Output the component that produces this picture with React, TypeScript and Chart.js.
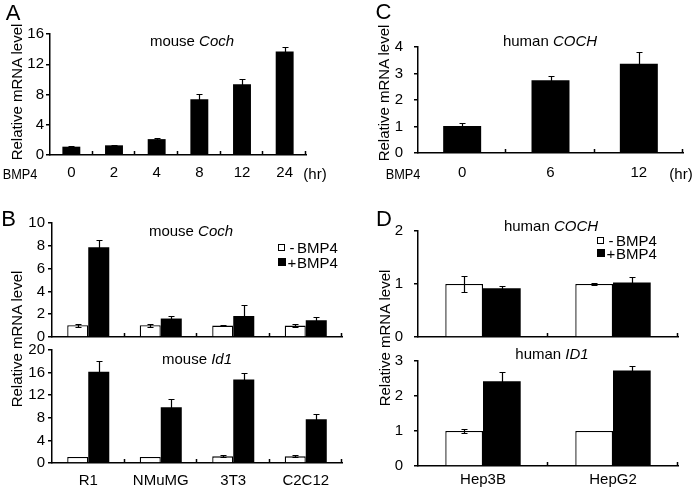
import React, { useEffect, useRef } from "react";
import { Chart, registerables } from "chart.js";

Chart.register(...registerables);

const FONT = "'Liberation Sans', Arial, Helvetica, sans-serif";

// ---- Panel A: mouse Coch, BMP4 time course ----
const aHours = ["0", "2", "4", "8", "12", "24"];
const aValues = [1.1, 1.28, 2.1, 7.38, 9.36, 13.67];
const aErrors = [0.12, 0.08, 0.1, 0.66, 0.74, 0.66];

// ---- Panel C: human COCH, BMP4 time course ----
const cHours = ["0", "6", "12"];
const cValues = [1.02, 2.75, 3.37];
const cErrors = [0.13, 0.14, 0.43];

// ---- Panel B: mouse cell lines ----
const bCells = ["R1", "NMuMG", "3T3", "C2C12"];
const bCochMinus = [1.03, 1.03, 1.0, 1.0];
const bCochMinusErr = [0.15, 0.15, 0.05, 0.15];
const bCochPlus = [7.88, 1.62, 1.84, 1.47];
const bCochPlusErr = [0.59, 0.23, 0.96, 0.29];
const bId1Minus = [1.07, 1.07, 1.18, 1.18];
const bId1MinusErr = [0.08, 0.08, 0.2, 0.2];
const bId1Plus = [16.15, 9.88, 14.8, 7.75];
const bId1PlusErr = [1.95, 1.36, 1.18, 1.01];

// ---- Panel D: human cell lines ----
const dCells = ["Hep3B", "HepG2"];
const dCochMinus = [1.0, 1.0];
const dCochMinusErr = [0.16, 0.01];
const dCochPlus = [0.92, 1.03];
const dCochPlusErr = [0.05, 0.1];
const dId1Minus = [1.0, 1.0];
const dId1MinusErr = [0.07, 0.01];
const dId1Plus = [2.42, 2.73];
const dId1PlusErr = [0.28, 0.14];

type Series = { values: number[]; errors: number[]; fill: string };
type Spec = {
  area: [number, number, number, number];
  labels: string[];
  series: Series[];
  max: number;
  step: number;
  yPad: number;
  showX: boolean;
  xPad: number;
  catPct: number;
};

const errorBarPlugin = {
  id: "errorBarsAndTicks",
  afterDatasetsDraw(chart: any) {
    const ctx = chart.ctx;
    const ys = chart.scales.y;
    ctx.save();
    ctx.strokeStyle = "#000";
    ctx.lineWidth = 1.2;
    chart.data.datasets.forEach((ds: any, i: number) => {
      const meta = chart.getDatasetMeta(i);
      const errs: number[] = ds.errors || [];
      meta.data.forEach((el: any, j: number) => {
        const v = ds.data[j];
        const e = errs[j] || 0;
        const x = Math.round(el.x) + 0.5;
        const yt = Math.round(ys.getPixelForValue(v + e)) + 0.5;
        const yb = Math.round(ys.getPixelForValue(v - e)) + 0.5;
        ctx.beginPath();
        ctx.moveTo(x, yt);
        ctx.lineTo(x, yb);
        ctx.moveTo(x - 3, yt);
        ctx.lineTo(x + 3, yt);
        ctx.moveTo(x - 3, yb);
        ctx.lineTo(x + 3, yb);
        ctx.stroke();
      });
    });
    const { left, right, bottom } = chart.chartArea;
    const n = chart.data.labels.length;
    ctx.lineWidth = 1.5;
    ctx.beginPath();
    for (let k = 1; k <= n; k++) {
      const xx = Math.round(left + ((right - left) * k) / n) - 0.5;
      ctx.moveTo(xx, bottom);
      ctx.lineTo(xx, bottom - 4);
    }
    ctx.stroke();
    ctx.restore();
  },
};

const YW = 50;
const TOPPAD = 12;
const RIGHTPAD = 6;
const XH = 30;

function BarChart({ spec }: { spec: Spec }) {
  const ref = useRef<HTMLCanvasElement>(null);
  const [l, t, r, b] = spec.area;
  const w = r - l + YW + RIGHTPAD;
  const h = b - t + TOPPAD + XH;
  useEffect(() => {
    const chart = new Chart(ref.current as HTMLCanvasElement, {
      type: "bar",
      data: {
        labels: spec.labels,
        datasets: spec.series.map((s) => ({
          data: s.values,
          errors: s.errors,
          backgroundColor: s.fill,
          borderColor: "#000",
          borderWidth: s.fill === "#000" ? 0 : 1.3,
          categoryPercentage: spec.catPct,
          barPercentage: 1,
        })) as any,
      },
      options: {
        responsive: false,
        animation: false,
        devicePixelRatio: 1,
        layout: { padding: { left: 0, top: TOPPAD, right: RIGHTPAD, bottom: 0 } },
        plugins: { legend: { display: false }, tooltip: { enabled: false } },
        scales: {
          x: {
            grid: { display: false, drawTicks: false },
            border: { display: true, color: "#000", width: 1.5 },
            ticks: {
              display: spec.showX,
              color: "#000",
              font: { family: FONT, size: 15 },
              padding: spec.xPad,
              maxRotation: 0,
              autoSkip: false,
            },
            afterFit: (s: any) => {
              s.height = XH;
            },
          },
          y: {
            min: 0,
            max: spec.max,
            ticks: {
              stepSize: spec.step,
              color: "#000",
              font: { family: FONT, size: 15 },
              padding: spec.yPad,
            },
            grid: { drawOnChartArea: false, tickLength: 4, color: "#000", lineWidth: 1.5 },
            border: { display: true, color: "#000", width: 1.5 },
            afterFit: (s: any) => {
              s.width = YW;
            },
          },
        },
      },
      plugins: [errorBarPlugin],
    });
    return () => chart.destroy();
  }, []);
  return (
    <canvas
      ref={ref}
      width={w}
      height={h}
      style={{ position: "absolute", left: l - YW, top: t - TOPPAD, width: w, height: h }}
    />
  );
}

function Txt({
  x,
  y,
  children,
  size = 15,
  rot = false,
  sx = 1,
}: {
  x: number;
  y: number;
  children: any;
  size?: number;
  rot?: boolean;
  sx?: number;
}) {
  return (
    <div
      style={{
        position: "absolute",
        left: x,
        top: y,
        fontSize: size,
        lineHeight: 1,
        whiteSpace: "nowrap",
        color: "#000",
        transform: `translate(-50%,-50%)${rot ? " rotate(-90deg)" : ""}${sx !== 1 ? ` scaleX(${sx})` : ""}`,
      }}
    >
      {children}
    </div>
  );
}

function LegendItem({ x, y, filled, sign }: { x: number; y: number; filled: boolean; sign: string }) {
  const sq = filled ? 8 : 7;
  return (
    <>
      <div
        style={{
          position: "absolute",
          left: x,
          top: y - sq / 2,
          width: sq,
          height: sq,
          boxSizing: "border-box",
          border: "1px solid #000",
          background: filled ? "#000" : "#fff",
        }}
      />
      <div
        style={{
          position: "absolute",
          left: x + 9,
          top: y - 7.5,
          fontSize: 15,
          lineHeight: "15px",
          whiteSpace: "nowrap",
        }}
      >
        <span style={{ display: "inline-block", width: 10, textAlign: "center" }}>{sign}</span>
        BMP4
      </div>
    </>
  );
}

const BLACK = "#000";
const WHITE = "#fff";

export default function App() {
  const specA: Spec = {
    area: [50, 34, 306, 155],
    labels: aHours,
    series: [{ values: aValues, errors: aErrors, fill: BLACK }],
    max: 16,
    step: 4,
    yPad: 2,
    showX: true,
    xPad: 9,
    catPct: 0.42,
  };
  const specC: Spec = {
    area: [418, 39, 683, 153],
    labels: cHours,
    series: [{ values: cValues, errors: cErrors, fill: BLACK }],
    max: 4,
    step: 1,
    yPad: 11,
    showX: true,
    xPad: 11,
    catPct: 0.43,
  };
  const specB1: Spec = {
    area: [52, 223, 342, 337],
    labels: bCells,
    series: [
      { values: bCochMinus, errors: bCochMinusErr, fill: WHITE },
      { values: bCochPlus, errors: bCochPlusErr, fill: BLACK },
    ],
    max: 10,
    step: 2,
    yPad: 3,
    showX: false,
    xPad: 9,
    catPct: 0.58,
  };
  const specB2: Spec = {
    area: [52, 350, 342, 463],
    labels: bCells,
    series: [
      { values: bId1Minus, errors: bId1MinusErr, fill: WHITE },
      { values: bId1Plus, errors: bId1PlusErr, fill: BLACK },
    ],
    max: 20,
    step: 4,
    yPad: 3,
    showX: true,
    xPad: 9,
    catPct: 0.58,
  };
  const specD1: Spec = {
    area: [418, 223, 678, 337],
    labels: dCells,
    series: [
      { values: dCochMinus, errors: dCochMinusErr, fill: WHITE },
      { values: dCochPlus, errors: dCochPlusErr, fill: BLACK },
    ],
    max: 2,
    step: 1,
    yPad: 11,
    showX: false,
    xPad: 5,
    catPct: 0.58,
  };
  const specD2: Spec = {
    area: [418, 353, 678, 466],
    labels: dCells,
    series: [
      { values: dId1Minus, errors: dId1MinusErr, fill: WHITE },
      { values: dId1Plus, errors: dId1PlusErr, fill: BLACK },
    ],
    max: 3,
    step: 1,
    yPad: 11,
    showX: true,
    xPad: 5,
    catPct: 0.58,
  };

  return (
    <div
      style={{
        position: "absolute",
        left: 0,
        top: 0,
        width: 693,
        height: 491,
        background: "#fff",
        fontFamily: FONT,
        overflow: "hidden",
      }}
    >
      <BarChart spec={specA} />
      <BarChart spec={specC} />
      <BarChart spec={specB1} />
      <BarChart spec={specB2} />
      <BarChart spec={specD1} />
      <BarChart spec={specD2} />

      <Txt x={13} y={12.5} size={22}>A</Txt>
      <Txt x={383.5} y={11.5} size={22}>C</Txt>
      <Txt x={8.5} y={218.5} size={22}>B</Txt>
      <Txt x={384} y={219} size={22}>D</Txt>

      <Txt x={192} y={40}>mouse <i>Coch</i></Txt>
      <Txt x={550} y={40}>human <i>COCH</i></Txt>
      <Txt x={191} y={230}>mouse <i>Coch</i></Txt>
      <Txt x={197} y={358}>mouse <i>Id1</i></Txt>
      <Txt x={551} y={225}>human <i>COCH</i></Txt>
      <Txt x={552} y={353}>human <i>ID1</i></Txt>

      <Txt x={16} y={92} rot>Relative mRNA level</Txt>
      <Txt x={382.5} y={92.5} rot>Relative mRNA level</Txt>
      <Txt x={16} y={339} rot>Relative mRNA level</Txt>
      <Txt x={384} y={338} rot>Relative mRNA level</Txt>

      <Txt x={20} y={173} sx={0.85}>BMP4</Txt>
      <Txt x={315} y={173}>(hr)</Txt>
      <Txt x={402.5} y={173} sx={0.85}>BMP4</Txt>
      <Txt x={681} y={173}>(hr)</Txt>

      <LegendItem x={278} y={247} filled={false} sign="-" />
      <LegendItem x={278} y={262} filled={true} sign="+" />
      <LegendItem x={597} y={240} filled={false} sign="-" />
      <LegendItem x={597} y={253} filled={true} sign="+" />
    </div>
  );
}
